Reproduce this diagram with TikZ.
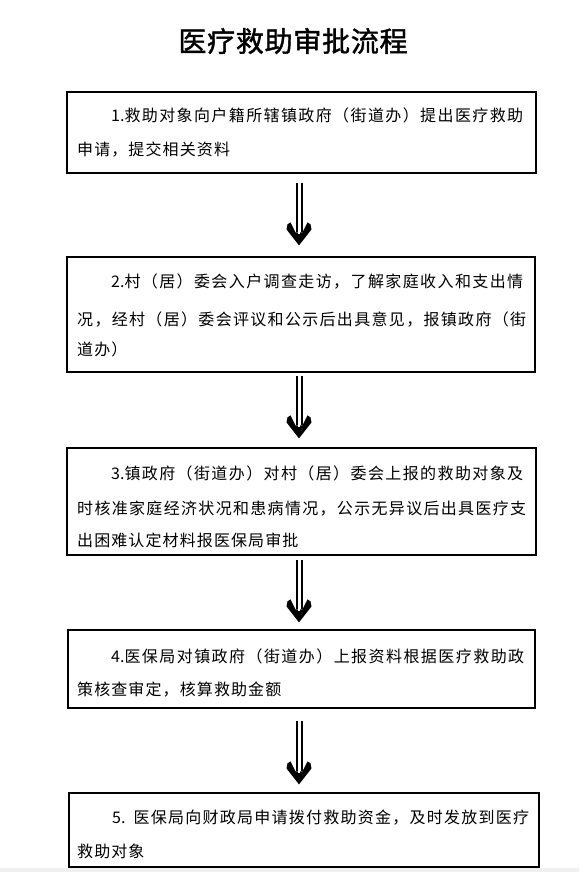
\documentclass[tikz,border=0pt]{standalone}
\usepackage{fontspec}
\setmainfont{Noto Sans CJK SC}
\newfontfamily\titlefont[FakeBold=1.5]{Noto Sans CJK SC}
\usetikzlibrary{calc}
\newskip\cjkgap
\def\endsp{ENDSP}
\def\spreadit#1{#1\spx}
\def\spx#1{\ifx#1\endsp\else\hskip\cjkgap\relax#1\expandafter\spx\fi}
\newcommand\jline[5]{\node[txt] at (#1,#2) {\cjkgap=1.1pt plus 1fil\relax\makebox[#3pt][s]{#4\spreadit#5\endsp}};}
\newcommand\nline[4]{\node[txt] at (#1,#2) {\cjkgap=1.1pt\relax #3\spreadit#4\endsp};}
\newcommand\bigarrow[2]{%
  \draw[shaft] ($(#1)+(-2.5,0)$) -- ($(#2)+(-2.5,-13)$);
  \draw[shaft] ($(#1)+(2.5,0)$) -- ($(#2)+(2.5,-13)$);
  \begin{scope}[shift={(#2)}]
    \fill (0,0) -- (-12.5,-16) -- (-11.5,-21) -- (-8.5,-23) -- (-3.5,-13) -- (3.5,-13) -- (8.5,-23) -- (11.5,-21) -- (12.5,-16) -- cycle;
    \draw[white,line width=1.5pt] (0,-13.5) -- (0,-11);
  \end{scope}}
\begin{document}
\begin{tikzpicture}[x=1pt,y=-1pt,
  box/.style={draw=black,line width=1.2pt,rectangle,inner sep=0pt},
  txt/.style={anchor=west,inner sep=0pt,font=\fontsize{16pt}{18pt}\selectfont},
  shaft/.style={line width=2pt},
  titlestyle/.style={inner sep=0pt,font=\titlefont\fontsize{28pt}{30pt}\selectfont}]
\fill[white] (0,0) rectangle (579,872);
\useasboundingbox (0,0) rectangle (579,872);
\fill[gray!12] (0,868) rectangle (579,872);

\node[titlestyle] (title) at (293,41) {\cjkgap=0.75pt\relax\spreadit 医疗救助审批流程\endsp};

\node[box,minimum width=469pt,minimum height=81pt] (b1) at (301.5,132.5) {};
\node[box,minimum width=468pt,minimum height=115pt] (b2) at (301,314.5) {};
\node[box,minimum width=469pt,minimum height=107pt] (b3) at (301.5,501.5) {};
\node[box,minimum width=467pt,minimum height=78pt] (b4) at (301.5,669) {};
\node[box,minimum width=470pt,minimum height=74pt] (b5) at (304,830) {};

% box 1
\jline{111}{115.5}{412}{1.}{救助对象向户籍所辖镇政府（街道办）提出医疗救助}
\nline{77}{150}{}{申请，提交相关资料}
% box 2
\jline{111}{281.5}{412}{2.}{村（居）委会入户调查走访，了解家庭收入和支出情}
\jline{77}{319.5}{449}{}{况，经村（居）委会评议和公示后出具意见，报镇政府（街}
\nline{77}{349.5}{}{道办）}
% box 3
\jline{111}{473}{412}{3.}{镇政府（街道办）对村（居）委会上报的救助对象及}
\jline{77}{509}{449}{}{时核准家庭经济状况和患病情况，公示无异议后出具医疗支}
\nline{77}{540.5}{}{出困难认定材料报医保局审批}
% box 4
\jline{111}{656}{413}{4.}{医保局对镇政府（街道办）上报资料根据医疗救助政}
\nline{77}{689.5}{}{策核查审定，核算救助金额}
% box 5
\jline{112}{817.5}{417}{5.\hspace{8pt}}{医保局向财政局申请拨付救助资金，及时发放到医疗}
\nline{77}{851}{}{救助对象}

% arrows
\coordinate (s1) at ([xshift=-2.5pt,yshift=-9pt]b1.south);
\coordinate (t1) at ([xshift=-2pt,yshift=11pt]b2.north);
\coordinate (s2) at ([xshift=-2pt,yshift=-3pt]b2.south);
\coordinate (t2) at ([xshift=-2.5pt,yshift=9pt]b3.north);
\coordinate (s3) at ([xshift=-2.5pt,yshift=-4pt]b3.south);
\coordinate (t3) at ([xshift=-2.5pt,yshift=7pt]b4.north);
\coordinate (s4) at ([xshift=-2.5pt,yshift=-12pt]b4.south);
\coordinate (t4) at ([xshift=-5pt,yshift=8pt]b5.north);
\bigarrow{s1}{t1}
\bigarrow{s2}{t2}
\bigarrow{s3}{t3}
\bigarrow{s4}{t4}
\end{tikzpicture}
\end{document}
